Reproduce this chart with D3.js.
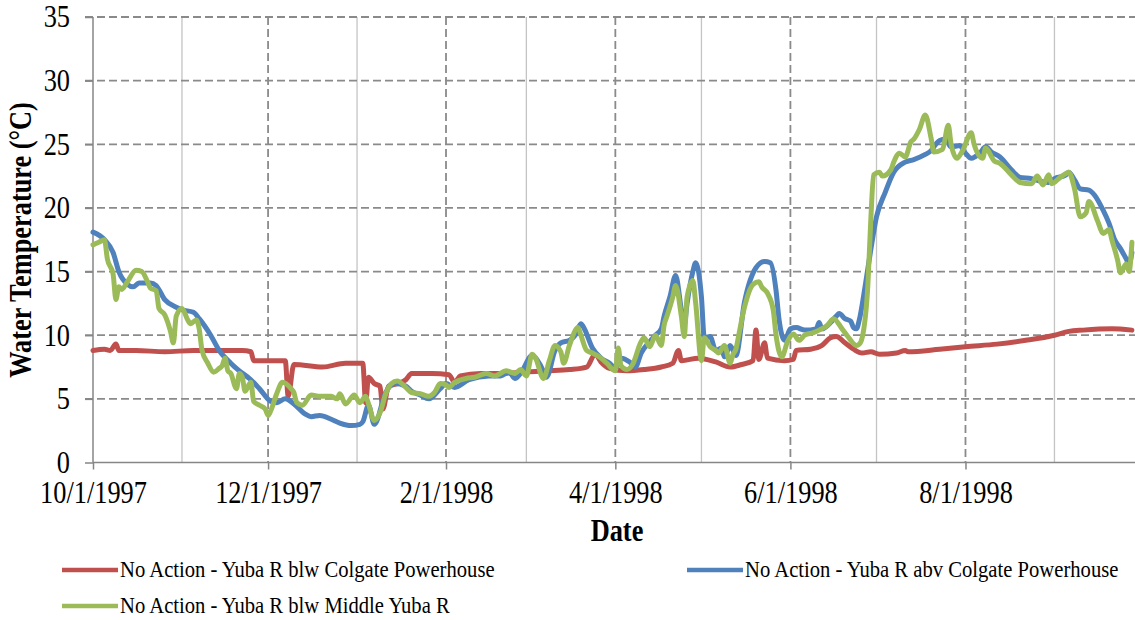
<!DOCTYPE html>
<meta charset="utf-8">
<style>
body { margin: 0; background: #fff; }
svg text { font-family: "Liberation Serif", Tinos, "DejaVu Serif", serif; fill: #000; }
.grid-dash { stroke: #8a8a8a; stroke-width: 1.8; stroke-dasharray: 8,4; }
.grid-solid { stroke: #c4c4c4; stroke-width: 1.3; }
.axis path, .axis line { stroke: #868686; stroke-width: 1.5; }
.series { fill: none; stroke-width: 5; stroke-linejoin: round; stroke-linecap: round; }
</style>
<svg width="1135" height="620"></svg>
<script src="https://cdn.jsdelivr.net/npm/d3@7"></script>
<script>

// days since 10/1/1997, temperature (deg C)
var blwColgate = [[0,8.8],[4,8.9],[6,8.8],[8,9.3],[9,8.8],[15,8.8],[25,8.7],[35,8.8],[45,8.8],[52,8.8],[55,8.7],[56,8.0],[62,8.0],[67,8.0],[68,5.2],[70,7.7],[80,7.5],[88,7.8],[94,7.8],[95,4.7],[96,6.7],[98,6.2],[100,6.0],[101,4.2],[103,6.0],[106,6.2],[109,6.5],[111,7.0],[118,7.0],[124,6.9],[126,6.3],[128,6.8],[135,7.0],[142,7.0],[150,7.1],[158,7.2],[166,7.3],[172,7.5],[175,8.5],[177,7.9],[180,7.4],[186,7.2],[192,7.3],[198,7.5],[202,7.8],[204,8.8],[205,8.0],[211,8.2],[217,7.9],[222,7.5],[226,7.7],[230,8.0],[231,10.4],[232,8.1],[234,9.4],[235,8.2],[241,8.0],[244,8.1],[245,8.8],[250,8.9],[254,9.2],[257,9.8],[259,9.9],[262,9.4],[265,8.9],[268,8.6],[271,8.7],[274,8.5],[280,8.6],[283,8.8],[284,8.7],[295,8.9],[304,9.1],[315,9.3],[325,9.6],[335,10.0],[340,10.3],[345,10.4],[355,10.5],[362,10.4]];

var abvColgate = [[0,18.1],[4,17.5],[7,16.5],[9,15.0],[12,14.0],[14,13.8],[16,14.1],[20,14.1],[22,13.9],[25,12.8],[29,12.2],[31,12.0],[35,11.8],[37,11.3],[41,10.0],[44,8.8],[48,7.8],[51,7.2],[55,6.5],[58,5.8],[62,4.8],[64,4.7],[67,5.0],[70,4.6],[74,3.8],[76,3.6],[79,3.7],[83,3.4],[86,3.1],[90,2.9],[93,3.0],[94,3.2],[96,4.5],[98,3.0],[102,5.5],[105,6.2],[109,6.0],[111,5.6],[114,5.3],[117,5.0],[121,5.8],[123,6.2],[126,5.9],[131,6.5],[138,6.8],[142,6.8],[145,7.1],[147,6.6],[149,7.0],[153,8.4],[156,7.6],[158,6.7],[161,8.8],[163,9.4],[166,9.6],[168,10.0],[170,10.9],[171,10.6],[174,9.0],[177,8.2],[180,7.8],[182,7.4],[184,8.2],[187,7.9],[189,7.5],[191,8.6],[194,9.5],[196,10.0],[198,10.5],[199,11.5],[201,13.0],[203,14.7],[205,12.0],[206,10.8],[207,12.5],[209,15.0],[210,15.7],[212,13.0],[213,9.8],[215,9.9],[217,8.8],[219,9.0],[220,8.3],[222,9.2],[224,8.4],[227,12.6],[231,15.3],[234,15.8],[236,15.7],[238,13.5],[239,11.3],[241,9.6],[243,10.5],[245,10.6],[248,10.4],[252,10.5],[253,11.0],[254,10.5],[257,11.0],[259,11.5],[260,11.7],[262,11.3],[264,11.1],[265,10.6],[266,10.5],[267,11.2],[269,13.8],[271,16.7],[273,19.3],[276,21.2],[279,22.8],[283,23.6],[286,23.8],[290,24.2],[292,24.5],[293,24.8],[295,25.3],[297,25.4],[299,24.8],[302,24.9],[304,24.3],[306,23.9],[309,24.3],[311,24.8],[313,24.4],[316,24.0],[320,23.0],[323,22.4],[327,22.3],[330,22.1],[333,22.0],[335,22.3],[339,22.6],[340,22.8],[342,22.2],[344,21.5],[347,21.4],[349,21.0],[352,19.8],[354,18.8],[356,17.5],[358,16.8],[360,16.0],[361,15.6],[362,16.5]];

var blwMiddleYuba = [[0,17.1],[2,17.3],[4,17.5],[5,16.0],[7,14.8],[8,12.8],[9,13.8],[10,13.6],[12,14.2],[15,15.1],[17,15.0],[19,14.2],[20,13.7],[22,13.5],[23,12.1],[25,11.6],[27,10.3],[28,9.4],[29,11.5],[31,12.1],[33,11.2],[34,10.9],[36,11.2],[37,10.5],[38,8.8],[40,7.8],[42,7.1],[44,7.4],[45,7.6],[46,8.2],[47,7.2],[48,7.0],[50,5.8],[51,7.0],[52,6.7],[53,5.6],[55,6.3],[56,4.8],[58,4.5],[60,4.2],[61,3.7],[62,4.1],[64,5.4],[66,6.3],[69,5.8],[70,5.5],[71,4.7],[73,4.5],[76,5.3],[79,5.2],[83,5.2],[85,5.0],[86,5.4],[88,4.6],[91,5.3],[93,4.7],[95,5.2],[96,4.6],[98,3.3],[100,3.9],[102,5.4],[104,6.2],[106,6.4],[109,5.9],[111,5.5],[114,5.4],[117,5.2],[119,5.5],[121,6.2],[123,6.1],[124,5.9],[126,6.3],[130,6.6],[133,6.7],[137,7.0],[140,6.8],[144,7.2],[147,7.0],[149,7.3],[151,6.8],[153,8.5],[154,8.3],[157,6.6],[159,8.0],[161,9.2],[163,8.7],[164,7.8],[166,9.2],[169,10.6],[170,10.0],[172,8.8],[174,8.6],[177,8.2],[179,7.8],[182,7.2],[183,9.0],[184,7.6],[186,7.3],[188,7.7],[191,9.5],[192,9.8],[194,9.1],[196,10.0],[198,9.2],[199,10.8],[200,11.5],[202,13.0],[203,13.9],[205,11.5],[206,9.9],[207,13.0],[209,14.3],[210,12.5],[212,8.0],[213,9.8],[215,9.1],[217,8.8],[218,8.6],[220,9.2],[222,7.8],[223,8.5],[224,8.9],[225,10.0],[227,12.2],[230,14.0],[232,14.2],[233,13.8],[235,13.3],[237,12.0],[238,10.0],[240,8.3],[242,9.5],[244,10.1],[246,9.6],[248,10.0],[251,10.2],[253,10.4],[256,10.8],[258,11.3],[261,10.5],[263,9.9],[266,9.2],[267,9.3],[268,9.8],[270,14.0],[271,19.0],[272,22.6],[274,22.8],[275,22.5],[278,23.0],[279,23.6],[281,24.3],[283,24.0],[285,25.2],[286,25.4],[288,26.2],[290,27.3],[292,25.5],[293,24.4],[296,24.6],[298,26.5],[299,25.0],[301,23.9],[303,24.5],[306,25.9],[307,25.0],[310,23.9],[311,24.7],[314,23.7],[316,23.5],[320,22.6],[323,22.0],[327,21.9],[329,22.5],[331,21.8],[333,22.6],[334,21.9],[337,22.4],[339,22.7],[340,22.8],[342,21.5],[344,19.3],[346,19.6],[347,20.5],[350,19.0],[352,18.0],[354,18.3],[355,17.5],[357,15.9],[358,14.9],[360,15.6],[361,15.0],[362,17.3]];

var seriesNames = [
  "No Action - Yuba R blw Colgate Powerhouse",
  "No Action - Yuba R abv Colgate Powerhouse",
  "No Action - Yuba R blw Middle Yuba R"
];
var seriesColors = ["#C0504D", "#4F81BD", "#9BBB59"];
var yTicks = [0, 5, 10, 15, 20, 25, 30, 35];

var svg = d3.select("svg");
var serif = "'Liberation Serif', Tinos, 'DejaVu Serif', serif";
var start = new Date(1997, 9, 1);
var sx = 0.85; // the Times face in the original is narrower

var x = d3.scaleTime()
    .domain([start, new Date(1998, 9, 1)])
    .range([93, 93 + 365 * 2.87]);

var y = d3.scaleLinear()
    .domain([0, 35])
    .range([462.5, 17]);

var months = d3.timeMonth.range(start, new Date(1998, 9, 1));
var labelMonths = months.filter(function(d, i) { return i % 2 == 0; });
var otherMonths = months.filter(function(d, i) { return i % 2 == 1; });

// gridlines
svg.append("g").selectAll("line")
  .data(otherMonths)
  .enter().append("line")
    .attr("class", "grid-solid")
    .attr("x1", function(d) { return x(d); })
    .attr("x2", function(d) { return x(d); })
    .attr("y1", y(35))
    .attr("y2", y(0));

svg.append("g").selectAll("line")
  .data(labelMonths.slice(1))
  .enter().append("line")
    .attr("class", "grid-dash")
    .attr("x1", function(d) { return x(d); })
    .attr("x2", function(d) { return x(d); })
    .attr("y1", y(35))
    .attr("y2", y(0));

svg.append("g").selectAll("line")
  .data(yTicks.slice(1))
  .enter().append("line")
    .attr("class", "grid-dash")
    .attr("x1", 85)
    .attr("x2", 1135)
    .attr("y1", function(d) { return y(d); })
    .attr("y2", function(d) { return y(d); });

// axes
var yAxis = svg.append("g")
    .attr("class", "axis")
    .attr("transform", "translate(93,0)")
    .call(d3.axisLeft(y).tickValues(yTicks).tickSize(8).tickSizeOuter(0));
yAxis.attr("font-family", serif);
yAxis.selectAll("text")
    .attr("x", -23 / sx)
    .attr("transform", "scale(" + sx + ",1)")
    .style("font-family", serif)
    .style("font-size", "31px");
yAxis.select(".domain").attr("d", "M0," + y(0) + "V" + y(35));

var xAxis = svg.append("g")
    .attr("class", "axis")
    .attr("transform", "translate(0," + y(0) + ")")
    .call(d3.axisBottom(x).tickValues(labelMonths).tickFormat(d3.timeFormat("%-m/%-d/%Y"))
      .tickSize(7).tickSizeOuter(0));
xAxis.attr("font-family", serif);
xAxis.selectAll("text")
    .attr("y", 19)
    .attr("transform", "scale(" + sx + ",1)")
    .style("font-family", serif)
    .style("font-size", "31px");
xAxis.select(".domain").attr("d", "M93,0H1135");

// series
var line = d3.line()
    .x(function(d) { return x(d3.timeDay.offset(start, d[0])); })
    .y(function(d) { return y(d[1]); })
    .curve(d3.curveMonotoneX);

var allSeries = [blwColgate, abvColgate, blwMiddleYuba];
svg.append("g").selectAll("path")
  .data(allSeries)
  .enter().append("path")
    .attr("class", "series")
    .attr("stroke", function(d, i) { return seriesColors[i]; })
    .attr("d", line);

// axis titles
svg.append("text")
    .attr("transform", "translate(31,240) rotate(-90) scale(" + sx + ",1)")
    .attr("text-anchor", "middle")
    .attr("font-weight", "bold")
    .style("font-family", serif)
    .style("font-size", "31px")
    .text("Water Temperature (°C)");

svg.append("text")
    .attr("transform", "translate(617,541) scale(" + sx + ",1)")
    .attr("text-anchor", "middle")
    .attr("font-weight", "bold")
    .style("font-family", serif)
    .style("font-size", "31px")
    .text("Date");

// legend
var legendPos = [[62, 570], [687, 570], [62, 606]];
var legend = svg.append("g").selectAll("g")
  .data(seriesNames)
  .enter().append("g")
    .attr("transform", function(d, i) { return "translate(" + legendPos[i][0] + "," + legendPos[i][1] + ")"; });

legend.append("line")
    .attr("x1", 0).attr("x2", 56)
    .attr("stroke", function(d, i) { return seriesColors[i]; })
    .attr("stroke-width", 4.5);

legend.append("text")
    .attr("transform", "translate(58,7) scale(0.86,1)")
    .style("font-family", serif)
    .style("font-size", "24px")
    .text(function(d) { return d; });

</script>
